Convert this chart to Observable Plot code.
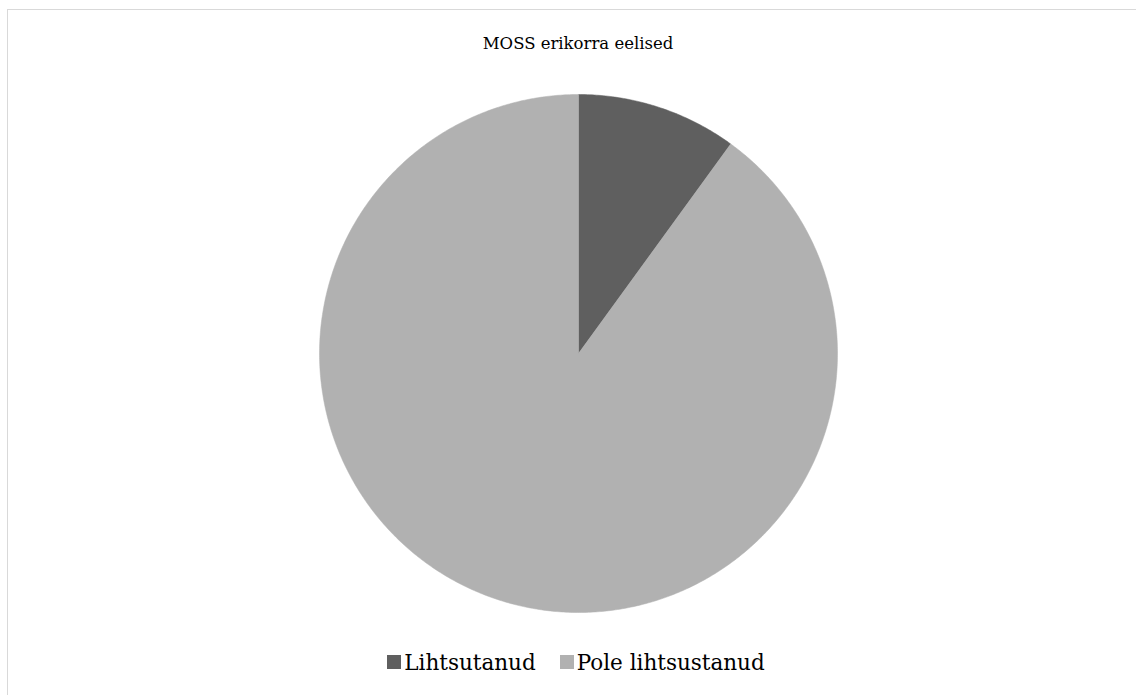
<!DOCTYPE html>
<html>
<head>
<meta charset="utf-8">
<script src="https://cdn.jsdelivr.net/npm/d3@7"></script>
<script src="https://cdn.jsdelivr.net/npm/@observablehq/plot@0.6"></script>
<style>
  html, body { margin: 0; padding: 0; background: #fff; overflow: hidden; width: 1136px; height: 695px; }
  #wrap { position: relative; width: 1136px; height: 695px; }
  #frame { position: absolute; left: 7px; top: 9px; width: 1300px; height: 900px; border: 1px solid #d9d9d9; box-sizing: border-box; }
  #chart { position: absolute; left: 0; top: 0; }
  #title { position: absolute; left: 0; width: 1156px; top: 34px; text-align: center; font-family: "DejaVu Serif", serif; font-size: 16.5px; color: #000; }
  #legend { position: absolute; left: 0; width: 1152px; top: 649px; text-align: center; font-family: "DejaVu Serif", serif; font-size: 21.5px; color: #000; }
  .item { display: inline-flex; align-items: center; margin: 0 12px; }
  .sw { display: inline-block; width: 14px; height: 14px; margin-right: 3px; }
</style>
</head>
<body>
<div id="wrap">
  <div id="frame"></div>
  <div id="chart"></div>
  <div id="title">MOSS erikorra eelised</div>
  <div id="legend"></div>
</div>
<script>
const categories = ["Lihtsutanud", "Pole lihtsustanud"];
const values = [10, 90];
const colors = ["#5f5f5f", "#b1b1b1"];

const arcs = d3.pie().sort(null)(values);
const rows = [];
arcs.forEach((a, i) => {
  const steps = Math.max(2, Math.ceil((a.endAngle - a.startAngle) / (Math.PI / 360)));
  rows.push({cat: categories[i], x: 0, y: 0});
  for (let k = 0; k <= steps; k++) {
    const t = a.startAngle + (a.endAngle - a.startAngle) * k / steps;
    rows.push({cat: categories[i], x: Math.sin(t), y: Math.cos(t)});
  }
  rows.push({cat: categories[i], x: 0, y: 0});
});

const plot = Plot.plot({
  width: 1136,
  height: 695,
  marginLeft: 319,
  marginRight: 299,
  marginTop: 94,
  marginBottom: 83,
  x: {domain: [-1, 1], axis: null},
  y: {domain: [-1, 1], axis: null},
  color: {domain: categories, range: colors},
  style: {background: "transparent"},
  marks: [
    Plot.line(rows, {x: "x", y: "y", z: "cat", fill: "cat", stroke: "cat", strokeWidth: 0.5, curve: "linear"})
  ]
});
document.getElementById("chart").appendChild(plot);

const legend = document.getElementById("legend");
categories.forEach((c, i) => {
  const item = document.createElement("span");
  item.className = "item";
  const sw = document.createElement("span");
  sw.className = "sw";
  sw.style.background = colors[i];
  item.appendChild(sw);
  item.appendChild(document.createTextNode(c));
  legend.appendChild(item);
});
</script>
</body>
</html>
